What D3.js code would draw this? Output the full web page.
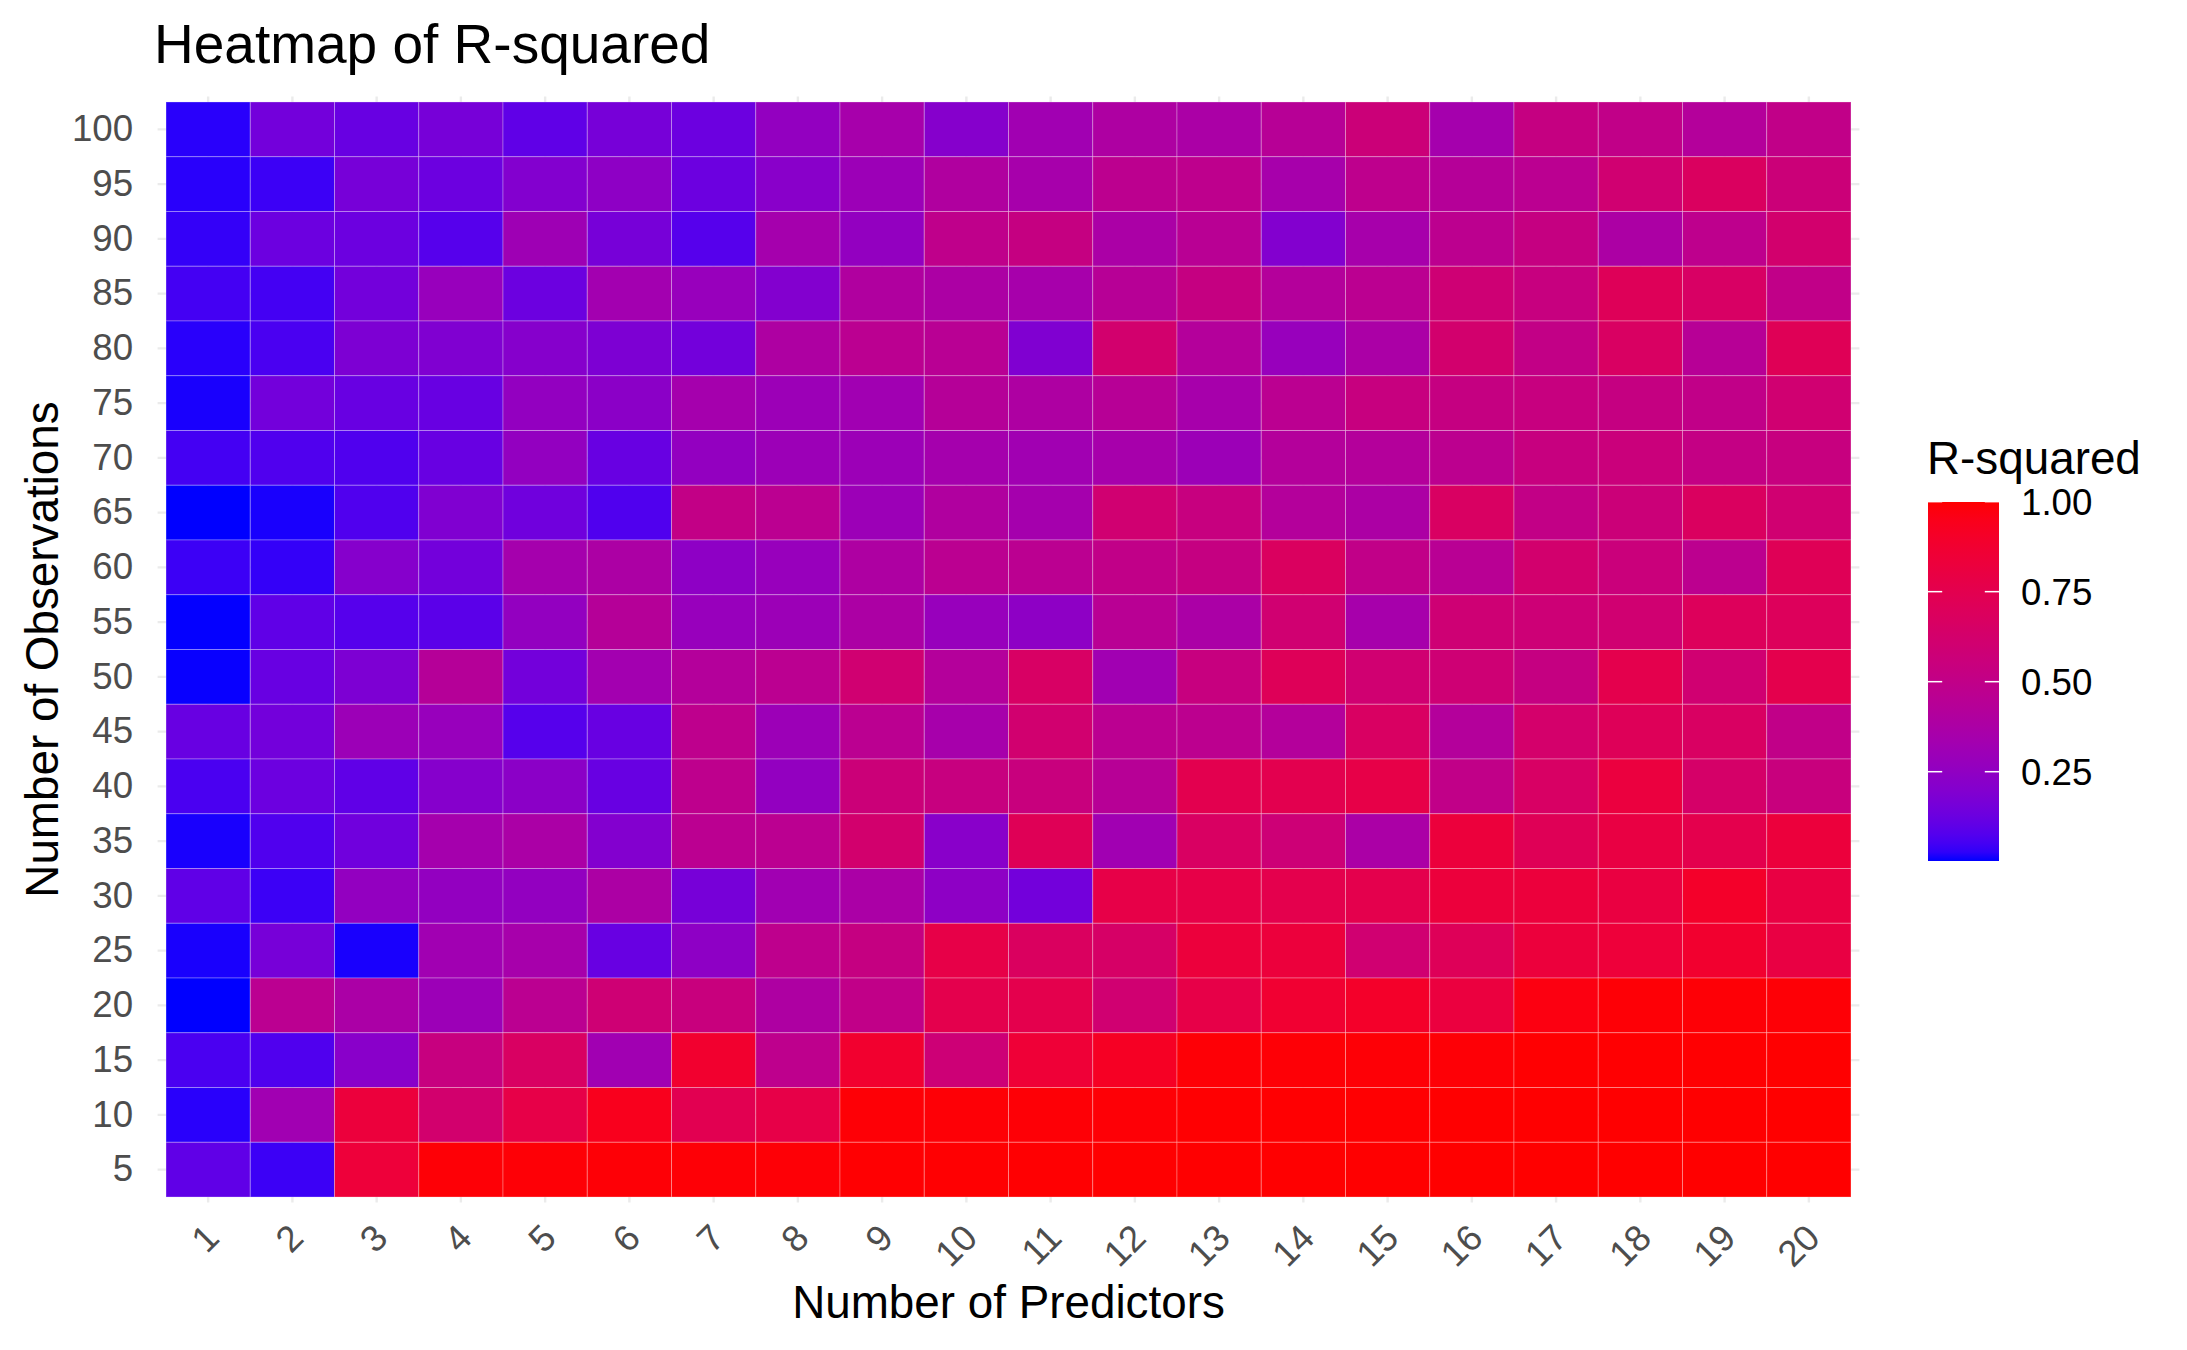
<!DOCTYPE html>
<html>
<head>
<meta charset="utf-8">
<script src="https://cdn.jsdelivr.net/npm/d3@7"></script>
<style>
  body { margin: 0; background: #fff; }
  svg { display: block; font-family: 'Liberation Sans', Arial, sans-serif; }
</style>
</head>
<body>
<div id="root"></div>
<script>
// categories
const predictors = [1, 2, 3, 4, 5, 6, 7, 8, 9, 10, 11, 12, 13, 14, 15, 16, 17, 18, 19, 20]
const observations = [100, 95, 90, 85, 80, 75, 70, 65, 60, 55, 50, 45, 40, 35, 30, 25, 20, 15, 10, 5]

// R-squared, one row per number of observations (top row = 100), one column per predictor
const rSquared = [
  [0.02, 0.15, 0.12, 0.16, 0.10, 0.16, 0.13, 0.26, 0.35, 0.21, 0.32, 0.39, 0.37, 0.44, 0.57, 0.34, 0.53, 0.50, 0.42, 0.50],
  [0.02, 0.04, 0.16, 0.13, 0.20, 0.24, 0.13, 0.22, 0.30, 0.40, 0.35, 0.47, 0.48, 0.35, 0.48, 0.43, 0.46, 0.60, 0.68, 0.57],
  [0.03, 0.13, 0.13, 0.08, 0.31, 0.16, 0.08, 0.34, 0.26, 0.49, 0.53, 0.37, 0.45, 0.20, 0.35, 0.47, 0.53, 0.38, 0.48, 0.62],
  [0.05, 0.05, 0.15, 0.28, 0.13, 0.33, 0.28, 0.20, 0.40, 0.38, 0.35, 0.44, 0.53, 0.42, 0.46, 0.59, 0.54, 0.71, 0.66, 0.50],
  [0.02, 0.06, 0.18, 0.19, 0.21, 0.18, 0.15, 0.39, 0.46, 0.45, 0.19, 0.62, 0.42, 0.28, 0.37, 0.62, 0.51, 0.67, 0.44, 0.72],
  [0.01, 0.15, 0.12, 0.12, 0.26, 0.23, 0.34, 0.30, 0.32, 0.43, 0.39, 0.44, 0.35, 0.46, 0.54, 0.53, 0.54, 0.53, 0.50, 0.60],
  [0.05, 0.07, 0.07, 0.12, 0.26, 0.12, 0.26, 0.30, 0.30, 0.34, 0.32, 0.35, 0.30, 0.42, 0.42, 0.47, 0.54, 0.56, 0.52, 0.54],
  [0.002, 0.01, 0.07, 0.19, 0.14, 0.07, 0.51, 0.46, 0.30, 0.40, 0.34, 0.60, 0.54, 0.42, 0.38, 0.67, 0.51, 0.57, 0.68, 0.60],
  [0.04, 0.03, 0.21, 0.15, 0.34, 0.38, 0.24, 0.28, 0.39, 0.46, 0.46, 0.50, 0.53, 0.68, 0.50, 0.45, 0.62, 0.56, 0.47, 0.72],
  [0.003, 0.10, 0.08, 0.09, 0.26, 0.43, 0.28, 0.30, 0.38, 0.28, 0.24, 0.45, 0.37, 0.60, 0.35, 0.59, 0.58, 0.60, 0.70, 0.70],
  [0.004, 0.12, 0.18, 0.43, 0.15, 0.33, 0.42, 0.46, 0.60, 0.42, 0.66, 0.32, 0.54, 0.71, 0.60, 0.59, 0.53, 0.76, 0.60, 0.76],
  [0.12, 0.15, 0.30, 0.28, 0.08, 0.12, 0.48, 0.30, 0.46, 0.35, 0.61, 0.46, 0.47, 0.42, 0.67, 0.42, 0.63, 0.71, 0.67, 0.50],
  [0.06, 0.13, 0.10, 0.21, 0.23, 0.12, 0.48, 0.26, 0.57, 0.54, 0.55, 0.44, 0.75, 0.75, 0.78, 0.50, 0.66, 0.82, 0.64, 0.55],
  [0.01, 0.07, 0.14, 0.34, 0.37, 0.20, 0.46, 0.46, 0.62, 0.22, 0.72, 0.32, 0.67, 0.58, 0.37, 0.83, 0.72, 0.80, 0.76, 0.83],
  [0.10, 0.04, 0.26, 0.26, 0.26, 0.38, 0.16, 0.32, 0.37, 0.24, 0.15, 0.78, 0.78, 0.76, 0.76, 0.83, 0.83, 0.81, 0.90, 0.80],
  [0.01, 0.16, 0.01, 0.32, 0.35, 0.12, 0.24, 0.48, 0.53, 0.78, 0.68, 0.65, 0.83, 0.83, 0.60, 0.71, 0.83, 0.84, 0.88, 0.80],
  [0.002, 0.46, 0.37, 0.30, 0.46, 0.59, 0.55, 0.39, 0.50, 0.76, 0.76, 0.60, 0.78, 0.87, 0.90, 0.82, 0.97, 0.99, 0.99, 0.99],
  [0.06, 0.07, 0.22, 0.54, 0.67, 0.32, 0.88, 0.48, 0.88, 0.58, 0.85, 0.92, 0.99, 0.99, 0.99, 0.99, 0.995, 0.995, 0.995, 0.998],
  [0.02, 0.32, 0.83, 0.62, 0.78, 0.94, 0.74, 0.78, 0.99, 0.99, 0.99, 0.99, 0.995, 0.995, 0.995, 0.997, 0.997, 0.998, 0.998, 0.999],
  [0.10, 0.04, 0.84, 0.99, 0.99, 0.99, 0.99, 0.99, 0.995, 0.995, 0.996, 0.997, 0.998, 0.998, 0.998, 0.999, 0.999, 0.999, 0.999, 0.999]
]

const legendBreaks = [0.25, 0.5, 0.75, 1.0]

const graph = {
  'width': 2187,
  'height': 1350,
  'left': 157.6,
  'right': 1859.4,
  'top': 96.5,
  'bottom': 1202.5
}

const cells = []
observations.forEach((obs, i) => {
  predictors.forEach((p, j) => {
    cells.push({ obs: obs, pred: p, value: rSquared[i][j] })
  })
})

const minVal = d3.min(cells, d => d.value)
const maxVal = d3.max(cells, d => d.value)

const color = d3.scaleSequential(d3.interpolateLab('#0000FF', '#FF0000'))
  .domain([minVal, maxVal])

const svg = d3.select('#root')
  .append('svg')
  .attr('width', graph.width)
  .attr('height', graph.height)

svg.append('rect')
  .attr('width', graph.width)
  .attr('height', graph.height)
  .attr('fill', '#fff')

const scaleX = d3.scaleBand()
  .domain(predictors)
  .range([graph.left, graph.right])
  .paddingInner(0)
  .paddingOuter(0.1)

const scaleY = d3.scaleBand()
  .domain(observations)
  .range([graph.top, graph.bottom])
  .paddingInner(0)
  .paddingOuter(0.1)

// grid
svg.append('g')
  .selectAll('line')
  .data(predictors)
  .join('line')
  .attr('x1', d => scaleX(d) + scaleX.bandwidth() / 2)
  .attr('x2', d => scaleX(d) + scaleX.bandwidth() / 2)
  .attr('y1', graph.top)
  .attr('y2', graph.bottom)
  .attr('stroke', '#EBEBEB')
  .attr('stroke-width', 2.4)

svg.append('g')
  .selectAll('line')
  .data(observations)
  .join('line')
  .attr('y1', d => scaleY(d) + scaleY.bandwidth() / 2)
  .attr('y2', d => scaleY(d) + scaleY.bandwidth() / 2)
  .attr('x1', graph.left)
  .attr('x2', graph.right)
  .attr('stroke', '#EBEBEB')
  .attr('stroke-width', 2.4)

// tiles
svg.append('g')
  .selectAll('rect')
  .data(cells)
  .join('rect')
  .attr('x', d => scaleX(d.pred))
  .attr('y', d => scaleY(d.obs))
  .attr('width', scaleX.bandwidth())
  .attr('height', scaleY.bandwidth())
  .attr('fill', d => color(d.value))
  .attr('stroke', 'rgba(255,255,255,0.28)')
  .attr('stroke-width', 1)

// y axis
const yAxis = svg.append('g')
  .attr('transform', `translate(${graph.left}, 0)`)
  .call(d3.axisLeft(scaleY).tickSize(0).tickPadding(24.5))
yAxis.select('.domain').remove()
yAxis.selectAll('text')
  .attr('font-size', 36.7)
  .attr('font-family', null)
  .attr('fill', '#4D4D4D')

// x axis
const xAxis = svg.append('g')
  .attr('transform', `translate(0, ${graph.bottom})`)
  .call(d3.axisBottom(scaleX).tickSize(0))
xAxis.select('.domain').remove()
xAxis.selectAll('text')
  .attr('y', null)
  .attr('dy', null)
  .attr('text-anchor', 'end')
  .attr('transform', `translate(13, ${1240 - graph.bottom}) rotate(-45)`)
  .attr('font-size', 36.7)
  .attr('fill', '#4D4D4D')

// titles
svg.append('text')
  .attr('x', 154)
  .attr('y', 63)
  .attr('font-size', 55)
  .attr('fill', '#000')
  .text('Heatmap of R-squared')

svg.append('text')
  .attr('x', (166 + 1851) / 2)
  .attr('y', 1318)
  .attr('text-anchor', 'middle')
  .attr('font-size', 45.8)
  .attr('fill', '#000')
  .text('Number of Predictors')

svg.append('text')
  .attr('transform', `translate(58, ${(graph.top + graph.bottom) / 2}) rotate(-90)`)
  .attr('text-anchor', 'middle')
  .attr('font-size', 45.8)
  .attr('fill', '#000')
  .text('Number of Observations')

// legend
const legend = { x: 1928, y: 502, w: 71, h: 359 }

const grad = svg.append('defs')
  .append('linearGradient')
  .attr('id', 'rsq-grad')
  .attr('x1', 0).attr('y1', 1)
  .attr('x2', 0).attr('y2', 0)

grad.selectAll('stop')
  .data(d3.range(0, 41))
  .join('stop')
  .attr('offset', d => d / 40)
  .attr('stop-color', d => color(minVal + (maxVal - minVal) * d / 40))

svg.append('text')
  .attr('x', 1927)
  .attr('y', 474)
  .attr('font-size', 45.8)
  .attr('fill', '#000')
  .text('R-squared')

svg.append('rect')
  .attr('x', legend.x)
  .attr('y', legend.y)
  .attr('width', legend.w)
  .attr('height', legend.h)
  .attr('fill', 'url(#rsq-grad)')

const legendY = d3.scaleLinear()
  .domain([minVal, maxVal])
  .range([legend.y + legend.h, legend.y])

const lg = svg.append('g')
lg.selectAll('line.l')
  .data(legendBreaks)
  .join('line')
  .attr('x1', legend.x)
  .attr('x2', legend.x + legend.w / 5)
  .attr('y1', d => legendY(d))
  .attr('y2', d => legendY(d))
  .attr('stroke', '#fff')
  .attr('stroke-width', 1.5)
lg.selectAll('line.r')
  .data(legendBreaks)
  .join('line')
  .attr('x1', legend.x + legend.w * 4 / 5)
  .attr('x2', legend.x + legend.w)
  .attr('y1', d => legendY(d))
  .attr('y2', d => legendY(d))
  .attr('stroke', '#fff')
  .attr('stroke-width', 1.5)
lg.selectAll('text')
  .data(legendBreaks)
  .join('text')
  .attr('x', 2021)
  .attr('y', d => legendY(d))
  .attr('dy', '0.36em')
  .attr('font-size', 36.7)
  .attr('fill', '#000')
  .text(d => d3.format('.2f')(d))
</script>
</body>
</html>
